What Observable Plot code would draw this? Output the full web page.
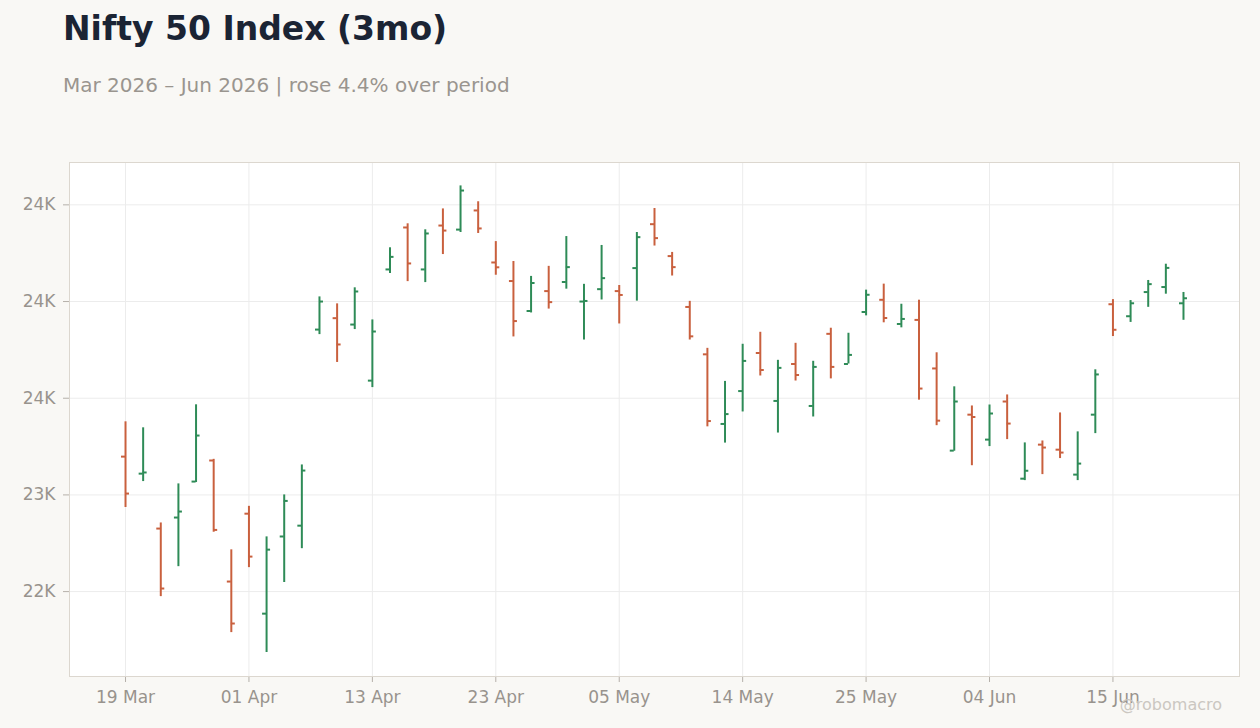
<!DOCTYPE html>
<html>
<head>
<meta charset="utf-8">
<script src="https://cdn.jsdelivr.net/npm/d3@7"></script>
<script src="https://cdn.jsdelivr.net/npm/@observablehq/plot@0.6"></script>
<style>
  html, body { margin: 0; padding: 0; background: #f9f8f5; overflow: hidden; }
  body { width: 1260px; height: 728px; position: relative; font-family: "DejaVu Sans", sans-serif; }
  #title { position: absolute; left: 63px; top: 12px; font-size: 33px; line-height: 1; font-weight: bold; color: #1b2434; white-space: nowrap; }
  #subtitle { position: absolute; left: 63px; top: 75px; font-size: 20px; line-height: 1; color: #9a958f; white-space: nowrap; }
  #caption { position: absolute; right: 38px; top: 697px; font-size: 16px; line-height: 1; color: #cbc7c1; white-space: nowrap; }
  #chart { position: absolute; left: 0; top: 130px; }
</style>
</head>
<body>
<div id="title">Nifty 50 Index (3mo)</div>
<div id="subtitle">Mar 2026 – Jun 2026 | rose 4.4% over period</div>
<div id="chart"></div>
<div id="caption">@robomacro</div>
<script>
const dates = [
  "2026-03-19","2026-03-20","2026-03-23","2026-03-24","2026-03-25","2026-03-27","2026-03-30",
  "2026-04-01","2026-04-02","2026-04-06","2026-04-07","2026-04-08","2026-04-09","2026-04-10",
  "2026-04-13","2026-04-15","2026-04-16","2026-04-17","2026-04-20","2026-04-21","2026-04-22",
  "2026-04-23","2026-04-24","2026-04-27","2026-04-28","2026-04-29","2026-04-30","2026-05-04",
  "2026-05-05","2026-05-06","2026-05-07","2026-05-08","2026-05-11","2026-05-12","2026-05-13",
  "2026-05-14","2026-05-15","2026-05-18","2026-05-19","2026-05-20","2026-05-21","2026-05-22",
  "2026-05-25","2026-05-26","2026-05-28","2026-05-29","2026-06-01","2026-06-02","2026-06-03",
  "2026-06-04","2026-06-05","2026-06-08","2026-06-09","2026-06-10","2026-06-11","2026-06-12",
  "2026-06-15","2026-06-16","2026-06-17","2026-06-18","2026-06-19"
];
const open = [
  22698,22610,22326,22383,22569,22678,22052,
  22403,21886,22285,22341,23355,23414,23381,
  23091,23666,23883,23666,23893,23872,23971,
  23702,23606,23451,23554,23601,23500,23564,
  23554,23673,23900,23735,23472,23227,22867,
  23037,23234,22986,23177,22960,23333,23177,
  23446,23509,23384,23405,23154,22729,22915,
  22786,22983,22584,22760,22734,22605,22915,
  23486,23424,23549,23575,23491
];
const high = [
  22878,22847,22355,22557,22966,22684,22216,
  22441,22283,22500,22655,23524,23488,23571,
  23405,23778,23902,23871,23979,24098,24016,
  23810,23707,23630,23682,23836,23589,23790,
  23583,23857,23981,23754,23501,23258,23087,
  23279,23341,23196,23284,23191,23362,23336,
  23559,23590,23486,23507,23235,23059,22960,
  22965,23017,22769,22779,22924,22826,23147,
  23510,23505,23609,23693,23547
];
const low = [
  22435,22569,21974,22129,22564,22307,21788,
  22124,21685,22047,22222,23329,23185,23355,
  23055,23645,23603,23598,23743,23857,23852,
  23636,23317,23441,23461,23564,23301,23508,
  23384,23502,23787,23632,23301,22852,22768,
  22929,23115,22820,23089,22903,23100,23177,
  23426,23390,23364,22990,22858,22726,22651,
  22750,22786,22574,22605,22688,22574,22817,
  23319,23392,23470,23538,23403
];
const close = [
  22507,22616,22016,22414,22807,22319,21835,
  22181,22217,22469,22626,23500,23278,23552,
  23345,23731,23697,23852,23867,24074,23878,
  23677,23399,23596,23497,23678,23503,23621,
  23534,23833,23828,23678,23320,22882,22918,
  23193,23146,23157,23120,23162,23162,23224,
  23535,23415,23410,23050,22884,22983,22903,
  22921,22869,22625,22745,22719,22662,23123,
  23354,23491,23590,23674,23517
];
const xTickDates = ["2026-03-19","2026-04-01","2026-04-13","2026-04-23","2026-05-05","2026-05-14","2026-05-25","2026-06-04","2026-06-15"];
const xTickLabels = ["19 Mar","01 Apr","13 Apr","23 Apr","05 May","14 May","25 May","04 Jun","15 Jun"];
const yTicks = [22000, 22500, 23000, 23500, 24000];
const yTickLabels = ["22K","23K","24K","24K","24K"];

const upColor = "#2e8b57";
const downColor = "#c9603e";

const data = dates.map((d, i) => ({date: d, open: open[i], high: high[i], low: low[i], close: close[i]}));
const col = d => d.close >= d.open ? upColor : downColor;

const width = 1260, height = 598;
const mL = 69, mR = 21, mT = 32, mB = 52;
const inset = 47.2;
const bw = (width - mL - mR - 2 * inset) / dates.length;
const half = bw / 2;
const tickLen = 4;

const chart = Plot.plot({
  width, height,
  marginLeft: mL, marginRight: mR, marginTop: mT, marginBottom: mB,
  style: {fontFamily: "DejaVu Sans", fontSize: "17px", background: "transparent", color: "#98938d"},
  x: {type: "band", domain: dates, padding: 0, insetLeft: inset, insetRight: inset, axis: null},
  y: {domain: [21561, 24219], axis: null},
  color: {type: "identity"},
  marks: [
    Plot.frame({fill: "white", stroke: "none"}),
    Plot.gridY(yTicks, {stroke: "#ececec", strokeOpacity: 1, strokeWidth: 1}),
    Plot.gridX(xTickDates, {stroke: "#ececec", strokeOpacity: 1, strokeWidth: 1}),
    Plot.axisY(yTicks, {tickFormat: (d, i) => yTickLabels[i], tickSize: 6, tickPadding: 8, stroke: "#b5b0aa", fill: "#98938d", label: null, fontSize: 17}),
    Plot.axisX(xTickDates, {tickFormat: (d, i) => xTickLabels[i], tickSize: 6, tickPadding: 8, stroke: "#b5b0aa", fill: "#98938d", label: null, fontSize: 17}),
    Plot.ruleX(data, {x: "date", y1: "low", y2: "high", stroke: col, strokeWidth: 2}),
    Plot.tickY(data, {x: "date", y: "open", stroke: col, strokeWidth: 2, insetLeft: half - tickLen, insetRight: half}),
    Plot.tickY(data, {x: "date", y: "close", stroke: col, strokeWidth: 2, insetLeft: half, insetRight: half - tickLen}),
    Plot.frame({stroke: "#dcd7cf", strokeWidth: 1})
  ]
});
document.getElementById("chart").appendChild(chart);
</script>
</body>
</html>
